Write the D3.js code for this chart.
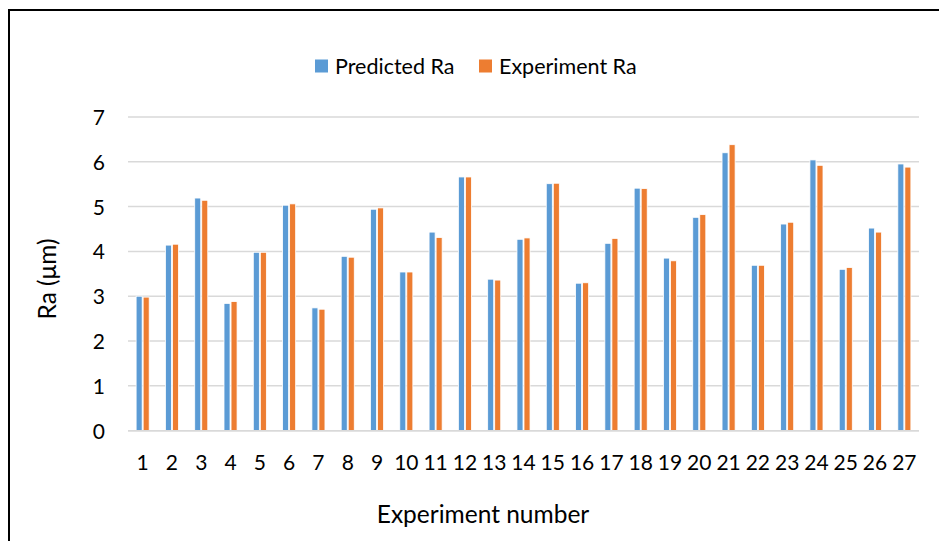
<!DOCTYPE html>
<html>
<head>
<meta charset="utf-8">
<script src="https://cdn.jsdelivr.net/npm/d3@7"></script>
<style>
  html, body { margin: 0; padding: 0; background: #fff; }
  svg { display: block; }
  text { font-family: Lato, "Open Sans", sans-serif; fill: #000; }
</style>
</head>
<body>
<svg id="chart" width="939" height="541"></svg>
<script>
// Surface roughness per experiment: model prediction vs measurement
const experiments = d3.range(1, 28).map(String);
const predictedRa = [3.00, 4.14, 5.19, 2.84, 3.98, 5.03, 2.74, 3.89, 4.94, 3.54,
                     4.43, 5.66, 3.38, 4.27, 5.51, 3.29, 4.18, 5.41, 3.85, 4.76,
                     6.20, 3.69, 4.61, 6.04, 3.60, 4.52, 5.95];
const experimentRa = [2.98, 4.16, 5.14, 2.88, 3.98, 5.06, 2.71, 3.87, 4.97, 3.54,
                      4.31, 5.66, 3.36, 4.30, 5.52, 3.30, 4.29, 5.40, 3.79, 4.82,
                      6.38, 3.69, 4.65, 5.92, 3.64, 4.43, 5.88];
const seriesNames = ["Predicted Ra", "Experiment Ra"];
const seriesColors = ["#5B9BD5", "#ED7D31"];
const yTicks = [0, 1, 2, 3, 4, 5, 6, 7];

const svg = d3.select("#chart");
const W = 939, H = 541;
const plotLeft = 128, plotRight = 919, plotBottom = 430.7, plotTop = 116.9;

// outer frame
svg.append("rect")
  .attr("x", 9).attr("y", 10)
  .attr("width", W + 10).attr("height", H + 10)
  .attr("fill", "none").attr("stroke", "#000").attr("stroke-width", 2);

const x = d3.scaleBand().domain(experiments)
  .range([plotLeft, plotRight]).paddingInner(0.52).paddingOuter(0.26);
const xs = d3.scaleBand().domain(seriesNames).range([0, x.bandwidth()]);
const y = d3.scaleLinear().domain([0, 7]).range([plotBottom, plotTop]);

// gridlines
svg.append("g").selectAll("line").data(yTicks).join("line")
  .attr("x1", plotLeft).attr("x2", plotRight)
  .attr("y1", d => y(d)).attr("y2", d => y(d))
  .attr("stroke", "#D9D9D9").attr("stroke-width", 1.5);

// y axis labels
const yAxis = d3.axisLeft(y).tickValues(yTicks).tickFormat(d3.format("d"))
  .tickSize(0).tickPadding(0);
const gy = svg.append("g").attr("transform", `translate(105,0)`).call(yAxis);
gy.select(".domain").remove();
gy.selectAll("text").style("font-size", "21px").attr("dy", "0.36em").attr("x", 0);

// bars
const rows = experiments.map((e, i) => ({ e, vals: [predictedRa[i], experimentRa[i]] }));
const groups = svg.append("g").selectAll("g").data(rows).join("g")
  .attr("transform", d => `translate(${x(d.e)},0)`);
groups.selectAll("rect")
  .data(d => d.vals.map((v, k) => ({ v, k })))
  .join("rect")
  .attr("x", d => xs(seriesNames[d.k]) + 0.5)
  .attr("width", xs.bandwidth() - 1)
  .attr("y", d => y(d.v))
  .attr("height", d => plotBottom - y(d.v))
  .attr("fill", d => seriesColors[d.k])
  .attr("stroke", "#fff").attr("stroke-width", 0.8);

// baseline on top of bars
svg.append("line")
  .attr("x1", plotLeft).attr("x2", plotRight)
  .attr("y1", plotBottom).attr("y2", plotBottom)
  .attr("stroke", "#D9D9D9").attr("stroke-width", 1.5);

// x axis labels
const xAxis = d3.axisBottom(x).tickSize(0).tickPadding(0);
const gx = svg.append("g").attr("transform", `translate(0,${plotBottom})`).call(xAxis);
gx.select(".domain").remove();
gx.selectAll("text").style("font-size", "21px").attr("y", 39).attr("dy", 0);

// axis titles
svg.append("text").attr("x", 483).attr("y", 523)
  .attr("text-anchor", "middle").style("font-size", "24.5px")
  .text("Experiment number");
svg.append("text")
  .attr("transform", "translate(56,279) rotate(-90)")
  .attr("text-anchor", "middle").style("font-size", "24.5px")
  .text("Ra (μm)");

// legend
const legendItems = [{ name: seriesNames[0], x: 315 }, { name: seriesNames[1], x: 479 }];
const lg = svg.append("g").selectAll("g").data(legendItems).join("g")
  .attr("transform", d => `translate(${d.x},0)`);
lg.append("rect").attr("x", 0).attr("y", 59.5).attr("width", 13).attr("height", 13)
  .attr("fill", (d, i) => seriesColors[i]);
lg.append("text").attr("x", 20).attr("y", 73.5).style("font-size", "21.5px")
  .text(d => d.name);
</script>
</body>
</html>
